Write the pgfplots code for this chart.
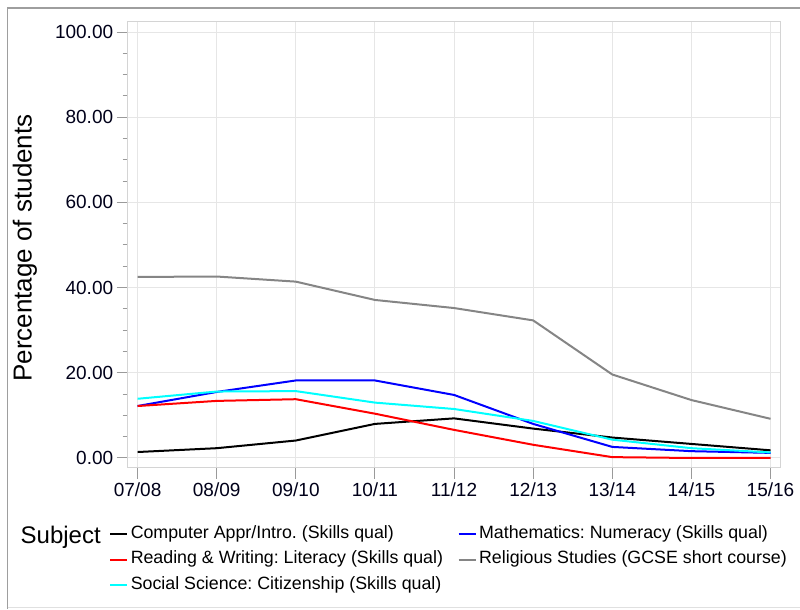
\documentclass[border=0pt]{standalone}
\usepackage{fontspec}
\setmainfont{Liberation Sans}
\usepackage{pgfplots}
\pgfplotsset{compat=1.18}
\definecolor{gridc}{HTML}{E6E6E6}
\definecolor{boxc}{HTML}{D4D4D4}
\definecolor{tickc}{HTML}{9A9A9A}
\definecolor{relgray}{HTML}{858585}
\definecolor{cyanc}{HTML}{00FFFF}
\frenchspacing
\begin{document}
\begin{tikzpicture}[x=1pt,y=1pt]
\useasboundingbox (0,0) rectangle (800,610);
\draw[color=black!38, line width=1.6pt] (805,602) -- (7.5,602) -- (7.5,1);
\draw[color=black!12, line width=1pt] (7.5,2) -- (805,2);
\begin{axis}[
  at={(127.7pt,142pt)}, anchor=south west,
  scale only axis, width=652.3pt, height=446pt,
  xmin=-0.125, xmax=8.12, ymin=-2.35, ymax=102.35,
  xtick={0,...,8},
  xticklabels={07/08,08/09,09/10,10/11,11/12,12/13,13/14,14/15,15/16},
  ytick={0,20,40,60,80,100},
  minor y tick num=3,
  scaled y ticks=false,
  yticklabel style={/pgf/number format/.cd, fixed, fixed zerofill, precision=2, assume math mode=true},
  ticklabel style={font=\fontsize{19}{22}\selectfont, text=black!90!blue},
  tick align=outside, tick pos=left,
  major tick length=11pt, minor tick length=5pt,
  every tick/.style={color=tickc, line width=1pt},
  xmajorgrids, ymajorgrids,
  grid style={color=gridc, line width=1pt},
  axis line style={color=boxc, line width=1pt},
  legend columns=2,
  legend cell align=left,
  legend style={at={(rel axis cs:-0.0287,-0.1295)}, anchor=north west, draw=none, fill=none,
    inner sep=0pt, font=\fontsize{17.8}{20}\selectfont,
    nodes={text height=12.5pt, text depth=4pt, inner ysep=0pt, inner xsep=2.5pt},
    /tikz/row sep=9pt,
    /tikz/every even column/.append style={column sep=12pt}},
  every axis plot/.append style={line width=2pt, mark=none},
]
\addplot[color=black] coordinates {(0,1.4) (1,2.3) (2,4.1) (3,8.0) (4,9.3) (5,6.9) (6,4.8) (7,3.3) (8,1.8)};
\addlegendentry{Computer Appr/Intro. (Skills qual)}
\addplot[color=blue] coordinates {(0,12.2) (1,15.5) (2,18.2) (3,18.2) (4,14.8) (5,8.0) (6,2.6) (7,1.6) (8,1.2)};
\addlegendentry{Mathematics: Numeracy (Skills qual)}
\addplot[color=red] coordinates {(0,12.2) (1,13.4) (2,13.8) (3,10.4) (4,6.6) (5,3.1) (6,0.2) (7,0.0) (8,0.0)};
\addlegendentry{Reading \& Writing: Literacy (Skills qual)}
\addplot[color=relgray] coordinates {(0,42.5) (1,42.6) (2,41.4) (3,37.1) (4,35.2) (5,32.3) (6,19.6) (7,13.6) (8,9.2)};
\addlegendentry{Religious Studies (GCSE short course)}
\addplot[color=cyanc] coordinates {(0,13.9) (1,15.6) (2,15.7) (3,13.0) (4,11.5) (5,8.7) (6,4.3) (7,2.3) (8,1.3)};
\addlegendentry{Social Science: Citizenship (Skills qual)}
\end{axis}
\node[rotate=90, font=\fontsize{26}{30}\selectfont] at (25,362) {Percentage of students};
\node[anchor=west, font=\fontsize{24}{28}\selectfont, inner sep=0pt] at (20.5,73) {Subject};
\end{tikzpicture}
\end{document}
